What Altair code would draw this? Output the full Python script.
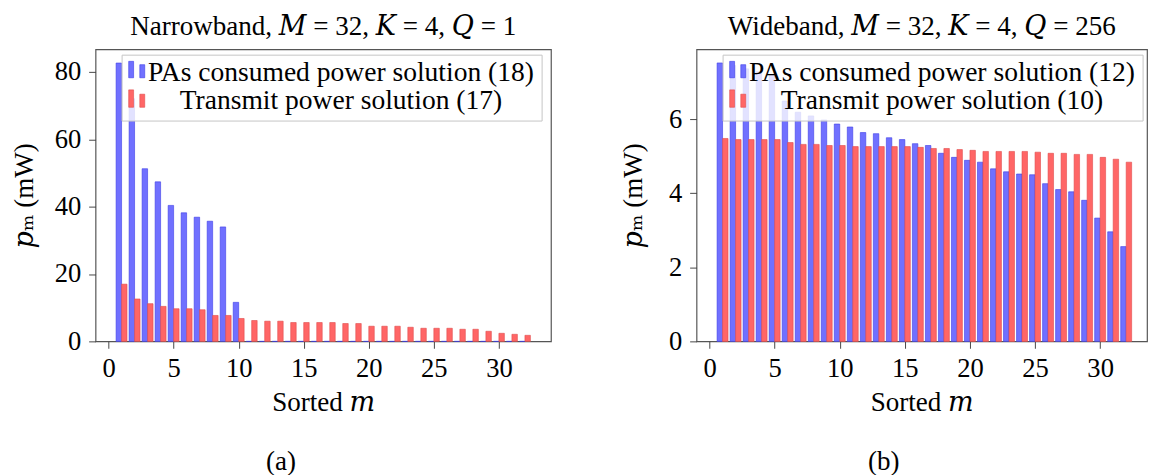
import altair as alt
import pandas as pd

# ---------------- data ----------------
m_idx = list(range(1, 33))

# (a) Narrowband, M=32, K=4, Q=1
nb_pa = [82.7, 72.1, 51.3, 47.4, 40.4, 38.2, 36.9, 35.7, 34.0, 11.6,
         0, 0, 0, 0, 0, 0, 0, 0, 0, 0, 0, 0, 0, 0, 0, 0, 0, 0, 0, 0, 0, 0]
nb_tx = [17.0, 12.6, 11.2, 10.4, 9.7, 9.7, 9.4, 7.7, 7.7, 6.8,
         6.2, 6.0, 6.0, 5.6, 5.6, 5.6, 5.6, 5.3, 5.3, 4.5,
         4.5, 4.5, 4.2, 3.9, 3.9, 3.9, 3.6, 3.6, 3.0, 2.4, 2.1, 1.8]

# (b) Wideband, M=32, K=4, Q=256
wb_pa = [7.52, 7.45, 7.36, 7.28, 7.21, 6.49, 6.19, 6.09, 5.98, 5.87,
         5.79, 5.64, 5.61, 5.50, 5.45, 5.34, 5.29, 5.08, 4.97, 4.89,
         4.84, 4.66, 4.58, 4.52, 4.50, 4.26, 4.10, 4.04, 3.81, 3.33, 2.96, 2.56]
wb_tx = [5.48, 5.45, 5.45, 5.45, 5.45, 5.37, 5.32, 5.32, 5.29, 5.29,
         5.26, 5.26, 5.26, 5.26, 5.26, 5.24, 5.21, 5.21, 5.18, 5.16,
         5.13, 5.13, 5.13, 5.13, 5.11, 5.08, 5.08, 5.05, 5.05, 4.97, 4.92, 4.84]

x_ticks = [0, 5, 10, 15, 20, 25, 30]
nb_yticks = [0, 20, 40, 60, 80]
wb_yticks = [0, 2, 4, 6]

FONT = "'Liberation Serif', 'DejaVu Serif', serif"
FS = 27.5
LEG_FS = 28
TICK_FS = 27
BLUE_FILL = "#7070ff"
BLUE_EDGE = "#3c3ce6"
RED_FILL = "#ff6666"
RED_EDGE = "#e04a4a"
BW = 0.42


def panel(pa, tx, title, ymax, yticks, xmax, width, height, ytp, leg1, leg2, caption):
    df = pd.DataFrame({"m": m_idx, "pa": pa, "tx": tx})
    xs = alt.Scale(domain=[-1, xmax], nice=False, zero=False)
    ys = alt.Scale(domain=[0, ymax], nice=False)
    xaxis = alt.Axis(values=x_ticks, title="Sorted 𝑚", labelPadding=8, titlePadding=7,
                     format="d")
    yaxis = alt.Axis(values=yticks, title="𝑝ₘ (mW)", labelPadding=8, titlePadding=ytp,
                     format="d")
    base = alt.Chart(df).transform_calculate(y0="0")
    blue = base.transform_calculate(xa=f"datum.m - {BW}", xb="datum.m").mark_rect(
        fill=BLUE_FILL, stroke=BLUE_EDGE, strokeWidth=0.6
    ).encode(
        x=alt.X("xa:Q", scale=xs, axis=xaxis),
        x2="xb:Q",
        y=alt.Y("pa:Q", scale=ys, axis=yaxis),
        y2="y0:Q",
    )
    red = base.transform_calculate(xa="datum.m", xb=f"datum.m + {BW}").mark_rect(
        fill=RED_FILL, stroke=RED_EDGE, strokeWidth=0.6
    ).encode(
        x=alt.X("xa:Q", scale=xs, axis=xaxis),
        x2="xb:Q",
        y=alt.Y("tx:Q", scale=ys, axis=yaxis),
        y2="y0:Q",
    )
    one = alt.Chart(pd.DataFrame({"k": [0]}))
    box = one.mark_rect(fill="white", fillOpacity=0.8, stroke="#c4c4c4", strokeWidth=1).encode(
        x=alt.value(27), x2=alt.value(454), y=alt.value(6), y2=alt.value(73))

    def sym(x1, x2, y1, y2, fill, edge):
        return one.mark_rect(fill=fill, stroke=edge, strokeWidth=0.6).encode(
            x=alt.value(x1), x2=alt.value(x2), y=alt.value(y1), y2=alt.value(y2))

    syms = [
        sym(33.7, 38.7, 12.3, 29, BLUE_FILL, BLUE_EDGE),
        sym(45, 50, 15.7, 29, BLUE_FILL, BLUE_EDGE),
        sym(33.7, 38.7, 41.3, 59, RED_FILL, RED_EDGE),
        sym(45, 50, 45.7, 59, RED_FILL, RED_EDGE),
    ]
    t1 = one.mark_text(text=leg1, font=FONT, fontSize=LEG_FS, align="center",
                       baseline="alphabetic", color="black").encode(
        x=alt.value(249.5), y=alt.value(32.3))
    t2 = one.mark_text(text=leg2, font=FONT, fontSize=LEG_FS, align="center",
                       baseline="alphabetic", color="black").encode(
        x=alt.value(249.5), y=alt.value(60.7))

    lay = alt.layer(blue, red, box, *syms, t1, t2).properties(
        width=width, height=height,
        title=alt.TitleParams(title, font=FONT, fontSize=FS, fontWeight="normal",
                              color="black", offset=-13, baseline="alphabetic", anchor="middle"),
    )
    return alt.vconcat(lay, title=alt.TitleParams(caption, orient="bottom", font=FONT,
                                                  fontSize=FS, fontWeight="normal",
                                                  color="black", offset=33, anchor="middle"))


left = panel(nb_pa, nb_tx, "Narrowband, 𝑀 = 32, 𝐾 = 4, 𝑄 = 1", 86.8, nb_yticks, 34, 463, 297, 16,
             "PAs consumed power solution (18)", "Transmit power solution (17)", "(a)")
right = panel(wb_pa, wb_tx, "Wideband, 𝑀 = 32, 𝐾 = 4, 𝑄 = 256", 7.89, wb_yticks, 33.6, 458, 297, 21,
              "PAs consumed power solution (12)", "Transmit power solution (10)", "(b)")

chart = alt.hconcat(left, right, spacing=68).properties(
    padding={"left": 2, "top": 0, "right": 0, "bottom": 0}
).configure_view(
    stroke="#555555", strokeWidth=1.2
).configure_axis(
    labelFont=FONT, titleFont=FONT, labelFontSize=TICK_FS, titleFontSize=FS,
    labelColor="black", titleColor="black", titleFontWeight="normal",
    grid=False, domain=False, tickColor="#444444", tickSize=7, tickWidth=1,
)

chart.save("out.html", embed_options={"renderer": "svg", "actions": False})
